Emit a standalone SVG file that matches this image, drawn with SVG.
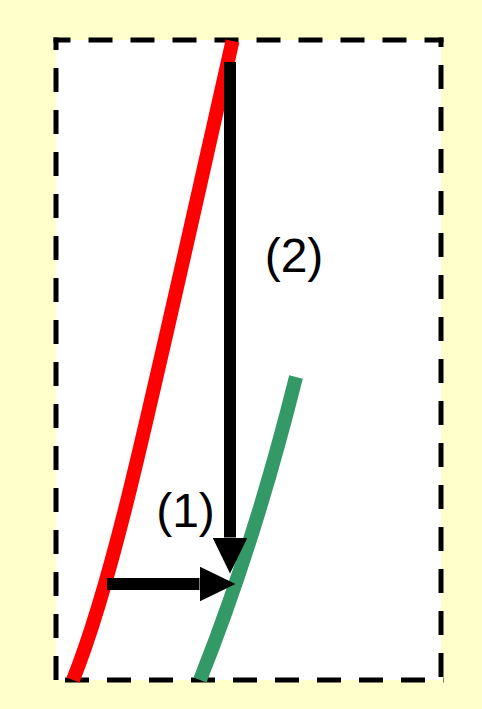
<svg xmlns="http://www.w3.org/2000/svg" width="482" height="709" viewBox="0 0 482 709">
<style>
.edge{stroke:#000;stroke-width:5;stroke-dasharray:24 18;fill:none}
.curve{fill:none;stroke-width:14;stroke-linecap:butt}
.shaft{stroke:#000;stroke-width:12;fill:none}
.lbl{font-family:"Liberation Sans",Arial,sans-serif;font-size:48px;fill:#000;text-anchor:middle}
</style>
<defs>
<marker id="ah" viewBox="0 0 36 35" refX="0" refY="17.5" markerWidth="36" markerHeight="35" markerUnits="userSpaceOnUse" orient="auto">
<path d="M0,0 L36,17.5 L0,35 Z" fill="#000"/>
</marker>
</defs>
<rect x="0" y="0" width="482" height="709" fill="#FFFFCC"/>
<g id="frame">
<rect x="56" y="40" width="385" height="640" fill="#FFFFFF"/>
<line class="edge" x1="53.5" y1="40" x2="443.5" y2="40" stroke-dashoffset="7"/>
<line class="edge" x1="441" y1="37.5" x2="441" y2="682.5" stroke-dashoffset="14.5"/>
<line class="edge" x1="53.5" y1="680" x2="443.5" y2="680" stroke-dashoffset="30.5"/>
<line class="edge" x1="56" y1="37.5" x2="56" y2="682.5" stroke-dashoffset="11.5"/>
</g>
<g id="red-curve">
<path class="curve" stroke="#FF0000" d="M232.5,41 C142.5,441 113,580 73,680"/>
</g>
<g id="green-curve">
<path class="curve" stroke="#339966" d="M296,377 Q254,545 200,680"/>
</g>
<g id="connectors">
<line class="shaft" x1="230" y1="62" x2="230" y2="537.5" marker-end="url(#ah)"/>
<line class="shaft" x1="107" y1="584" x2="199.5" y2="584" marker-end="url(#ah)"/>
</g>
<g id="label-2"><text class="lbl" x="294" y="272">(2)</text></g>
<g id="label-1"><text class="lbl" x="185.5" y="527">(1)</text></g>
</svg>
